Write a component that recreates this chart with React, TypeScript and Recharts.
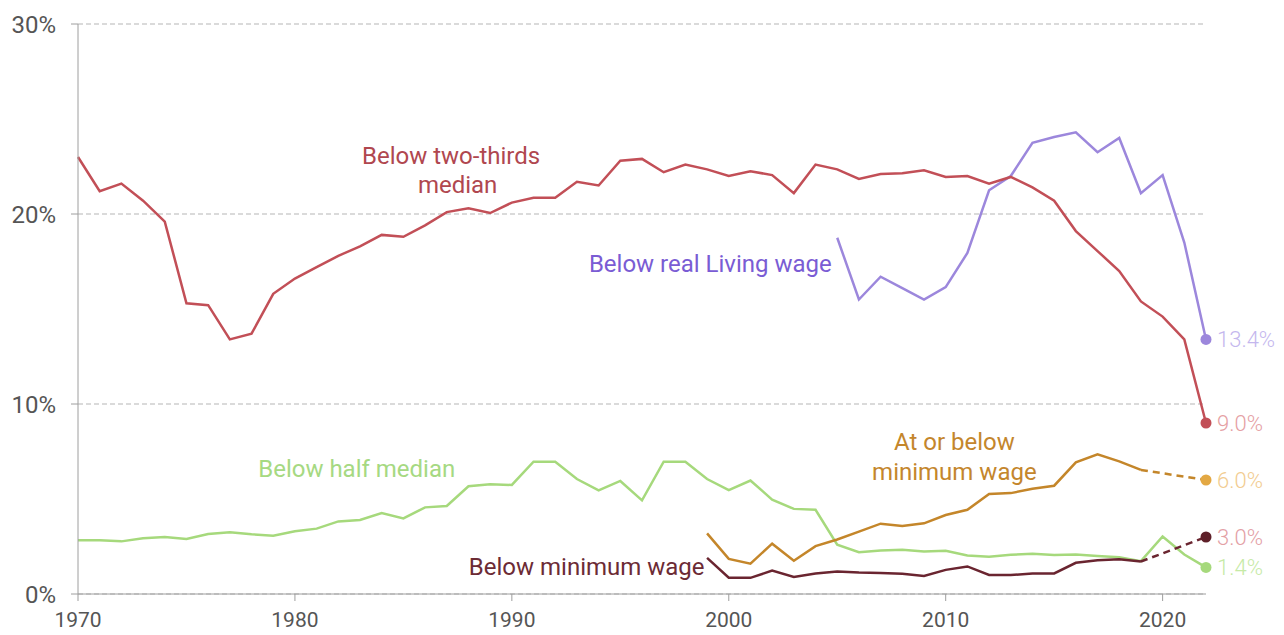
import { LineChart, Line, XAxis, YAxis, CartesianGrid, ReferenceDot } from "recharts";

// years 1970..2022
const years = [
    1970, 1971, 1972, 1973, 1974, 1975, 1976, 1977, 1978, 1979,
    1980, 1981, 1982, 1983, 1984, 1985, 1986, 1987, 1988, 1989,
    1990, 1991, 1992, 1993, 1994, 1995, 1996, 1997, 1998, 1999,
    2000, 2001, 2002, 2003, 2004, 2005, 2006, 2007, 2008, 2009,
    2010, 2011, 2012, 2013, 2014, 2015, 2016, 2017, 2018, 2019,
    2020, 2021, 2022
];

const belowTwoThirds = [
    23.0, 21.2, 21.6, 20.7, 19.6, 15.3, 15.2, 13.4, 13.7, 15.8,
    16.6, 17.2, 17.8, 18.3, 18.9, 18.8, 19.4, 20.1, 20.3, 20.05,
    20.6, 20.85, 20.85, 21.7, 21.5, 22.8, 22.9, 22.2, 22.6, 22.35,
    22.0, 22.25, 22.05, 21.1, 22.6, 22.35, 21.85, 22.1, 22.15, 22.3,
    21.95, 22.0, 21.6, 21.95, 21.4, 20.7, 19.1, 18.05, 17.0, 15.4,
    14.6, 13.4, 9.0
];

const belowLivingWage = [
    null, null, null, null, null, null, null, null, null, null,
    null, null, null, null, null, null, null, null, null, null,
    null, null, null, null, null, null, null, null, null, null,
    null, null, null, null, null, 18.75, 15.5, 16.7, 16.1, 15.5,
    16.15, 17.95, 21.25, 22.0, 23.75, 24.05, 24.3, 23.25, 24.0, 21.1,
    22.05, 18.5, 13.4
];

const belowHalfMedian = [
    2.83, 2.83, 2.77, 2.93, 3.0, 2.9, 3.16, 3.25, 3.14, 3.07,
    3.3, 3.44, 3.82, 3.9, 4.26, 3.98, 4.56, 4.63, 5.67, 5.77,
    5.74, 6.96, 6.96, 6.05, 5.45, 5.95, 4.93, 6.96, 6.96, 6.05,
    5.47, 5.97, 4.97, 4.48, 4.43, 2.6, 2.2, 2.29, 2.33, 2.24,
    2.28, 2.03, 1.96, 2.06, 2.12, 2.05, 2.08, 2.0, 1.94, 1.73,
    3.03, 2.08, 1.4
];

const atOrBelowMin = [
    null, null, null, null, null, null, null, null, null, null,
    null, null, null, null, null, null, null, null, null, null,
    null, null, null, null, null, null, null, null, null, 3.19,
    1.85, 1.6, 2.65, 1.75, 2.52, 2.87, 3.28, 3.7, 3.58, 3.72,
    4.16, 4.43, 5.26, 5.31, 5.54, 5.7, 6.93, 7.35, 6.98, 6.53,
    null, null, null
];

const atOrBelowMinProjected = [
    null, null, null, null, null, null, null, null, null, null,
    null, null, null, null, null, null, null, null, null, null,
    null, null, null, null, null, null, null, null, null, null,
    null, null, null, null, null, null, null, null, null, null,
    null, null, null, null, null, null, null, null, null, 6.53,
    null, null, 6.0
];

const belowMin = [
    null, null, null, null, null, null, null, null, null, null,
    null, null, null, null, null, null, null, null, null, null,
    null, null, null, null, null, null, null, null, null, 1.9,
    0.86, 0.85, 1.23, 0.9, 1.08, 1.18, 1.13, 1.11, 1.06, 0.95,
    1.27, 1.45, 1.0, 1.0, 1.08, 1.08, 1.64, 1.78, 1.83, 1.71,
    null, null, null
];

const belowMinProjected = [
    null, null, null, null, null, null, null, null, null, null,
    null, null, null, null, null, null, null, null, null, null,
    null, null, null, null, null, null, null, null, null, null,
    null, null, null, null, null, null, null, null, null, null,
    null, null, null, null, null, null, null, null, null, 1.71,
    null, null, 3.0
];

const xTicks = [1970, 1980, 1990, 2000, 2010, 2020];
const yTicks = [0, 10, 20, 30];

const rows = years.map((year, i) => ({
    year,
    twoThirds: belowTwoThirds[i],
    living: belowLivingWage[i],
    half: belowHalfMedian[i],
    atOrBelow: atOrBelowMin[i],
    atOrBelowProj: atOrBelowMinProjected[i],
    below: belowMin[i],
    belowProj: belowMinProjected[i],
}));

const lastYear = years[years.length - 1];

function endDot(color: string, labelColor: string) {
    return (p: any) => {
        const k = `dot-${p.index}`;
        if (p.payload?.year !== lastYear || p.value == null) return <g key={k} />;
        return (
            <g key={k}>
                <circle cx={p.cx} cy={p.cy} r={5.5} fill={color} />
                <text
                    x={p.cx + 11}
                    y={p.cy}
                    dominantBaseline="central"
                    fill={labelColor}
                    fontSize={22}
                    fontWeight={300}
                >
                    {`${Number(p.value).toFixed(1)}%`}
                </text>
            </g>
        );
    };
}

function Anno(props: any) {
    const { viewBox, text, color } = props;
    if (!viewBox) return null;
    return (
        <text
            x={viewBox.x + viewBox.width / 2}
            y={viewBox.y + viewBox.height / 2}
            textAnchor="middle"
            fill={color}
            fontSize={24}
            fontWeight={400}
        >
            {text}
        </text>
    );
}

const annotations = [
    { text: "Below two-thirds", year: 1987.2, value: 22.63, color: "#b0474f" },
    { text: "median", year: 1987.5, value: 21.1, color: "#b0474f" },
    { text: "Below real Living wage", year: 1999.15, value: 16.94, color: "#7a5cd4" },
    { text: "Below half median", year: 1982.85, value: 6.14, color: "#a6d982" },
    { text: "At or below", year: 2010.4, value: 7.57, color: "#c4862c" },
    { text: "minimum wage", year: 2010.4, value: 6.02, color: "#c4862c" },
    { text: "Below minimum wage", year: 1993.45, value: 0.98, color: "#6c2b35" },
];

export default function App() {
    return (
        <div style={{ position: "absolute", left: 0, top: 0, fontFamily: "Roboto, sans-serif" }}>
            <LineChart
                width={1284}
                height={635}
                data={rows}
                margin={{ top: 24, right: 78, bottom: 11, left: 18 }}
            >
                <CartesianGrid vertical={false} stroke="#b5b5b5" strokeDasharray="5 3" />

                <XAxis
                    dataKey="year"
                    type="number"
                    domain={[1970, 2022]}
                    ticks={xTicks}
                    height={30}
                    tickSize={7}
                    tickMargin={11}
                    stroke="#9e9e9e"
                    tick={{ fill: "#555", fontSize: 21 }}
                />
                <YAxis
                    domain={[0, 30]}
                    ticks={yTicks}
                    width={60}
                    tickSize={7}
                    tickMargin={15}
                    stroke="#9e9e9e"
                    tickFormatter={(v: number) => `${v}%`}
                    tick={{ fill: "#555", fontSize: 24 }}
                />

                <Line dataKey="half" stroke="#a6d97c" strokeWidth={2.5} isAnimationActive={false}
                    dot={endDot("#a6d97c", "#c6eaa6")} activeDot={false} />
                <Line dataKey="below" stroke="#6a2530" strokeWidth={2.5} isAnimationActive={false}
                    dot={false} activeDot={false} />
                <Line dataKey="belowProj" stroke="#6a2530" strokeWidth={2.5} strokeDasharray="7 5"
                    connectNulls isAnimationActive={false}
                    dot={endDot("#5e2029", "#e3a0a5")} activeDot={false} />
                <Line dataKey="atOrBelow" stroke="#c4862a" strokeWidth={2.5} isAnimationActive={false}
                    dot={false} activeDot={false} />
                <Line dataKey="atOrBelowProj" stroke="#c4862a" strokeWidth={2.5} strokeDasharray="7 5"
                    connectNulls isAnimationActive={false}
                    dot={endDot("#e3a843", "#f2cc8f")} activeDot={false} />
                <Line dataKey="living" stroke="#9c87dc" strokeWidth={2.5} isAnimationActive={false}
                    dot={endDot("#9c87dc", "#c4b7ee")} activeDot={false} />
                <Line dataKey="twoThirds" stroke="#c24f57" strokeWidth={2.5} isAnimationActive={false}
                    dot={endDot("#c24f57", "#e5a0a3")} activeDot={false} />

                {annotations.map((a) => (
                    <ReferenceDot
                        key={a.text}
                        x={a.year}
                        y={a.value}
                        r={1}
                        fill="none"
                        stroke="none"
                        label={<Anno text={a.text} color={a.color} />}
                    />
                ))}
            </LineChart>
        </div>
    );
}
